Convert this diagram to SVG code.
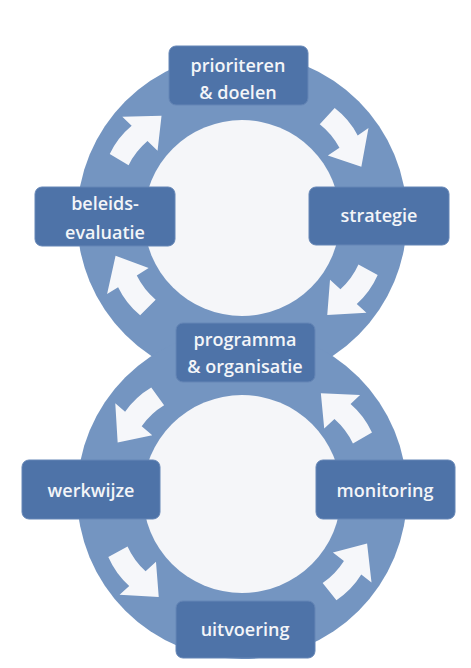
<svg xmlns="http://www.w3.org/2000/svg" width="471" height="668" viewBox="0 0 471 668">
<style>
.ring{fill:#7495c1}
.hole{fill:#f5f6f9}
.box rect{fill:#4e73a8;stroke:#6586b6;stroke-width:1}
.box text{fill:#f3f5f8;font-family:"Open Sans","DejaVu Sans",sans-serif;font-size:18px;font-weight:600;text-anchor:middle}
.arr{fill:#f6f7fa}
</style>
<defs>
<path id="arrow" d="M -32.5,-10.7 Q -15,-16.5 3,-14.5 L 3,-27.5 L 31,0 L 3,21.5 L 3,7.5 Q -13,6 -27.5,10.7 Z"/>
</defs>
<rect width="471" height="668" fill="#ffffff"/>
<g id="rings">
<circle class="ring" cx="242" cy="218" r="165"/>
<circle class="ring" cx="242" cy="494" r="165"/>
<circle class="hole" cx="242" cy="218" r="98"/>
<circle class="hole" cx="242" cy="494" r="99"/>
</g>
<g id="connectors" class="arr">
<use href="#arrow" transform="translate(140,138) rotate(-46)"/>
<use href="#arrow" transform="translate(344,141) rotate(56)"/>
<use href="#arrow" transform="translate(348,292) rotate(132)"/>
<use href="#arrow" transform="translate(132,282) rotate(238)"/>
<use href="#arrow" transform="translate(138,419) rotate(131) scale(1,-1)"/>
<use href="#arrow" transform="translate(342,416) rotate(227) scale(1,-1)"/>
<use href="#arrow" transform="translate(138,574) rotate(48) scale(1,-1)"/>
<use href="#arrow" transform="translate(348,568) rotate(-52) scale(1,-1)"/>
</g>
<g id="prioriteren" class="box">
<rect x="169" y="46" width="139" height="59" rx="7"/>
<text x="238" y="72">prioriteren</text>
<text x="238" y="99">&amp; doelen</text>
</g>
<g id="strategie" class="box">
<rect x="309" y="187" width="140" height="58" rx="7"/>
<text x="379" y="222">strategie</text>
</g>
<g id="beleidsevaluatie" class="box">
<rect x="35" y="187" width="140" height="59" rx="7"/>
<text x="105" y="210">beleids-</text>
<text x="105" y="239">evaluatie</text>
</g>
<g id="programma" class="box">
<rect x="176" y="323" width="139" height="59" rx="7"/>
<text x="245" y="346">programma</text>
<text x="245" y="373">&amp; organisatie</text>
</g>
<g id="werkwijze" class="box">
<rect x="22" y="460" width="138" height="59" rx="7"/>
<text x="91" y="497">werkwijze</text>
</g>
<g id="monitoring" class="box">
<rect x="316" y="460" width="139" height="59" rx="7"/>
<text x="385" y="497">monitoring</text>
</g>
<g id="uitvoering" class="box">
<rect x="176" y="601" width="139" height="57" rx="7"/>
<text x="245" y="636">uitvoering</text>
</g>
</svg>
